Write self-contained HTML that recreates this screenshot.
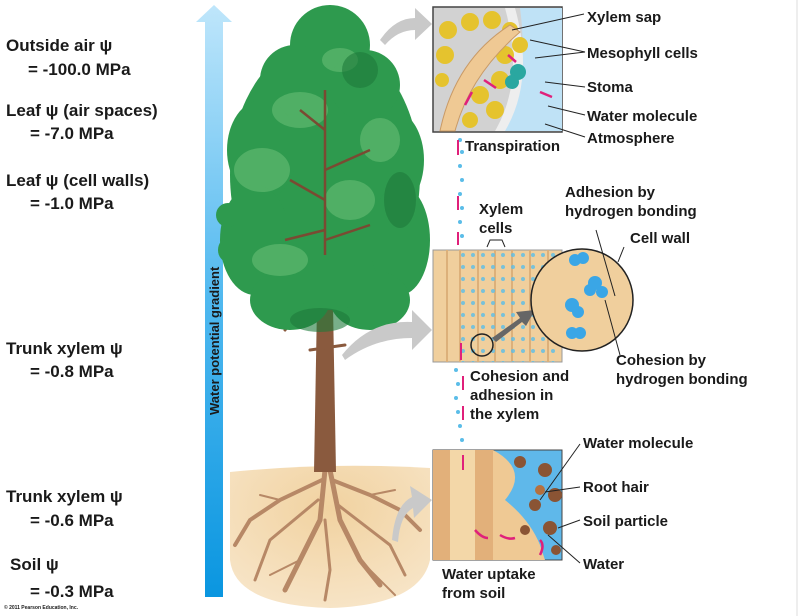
<!DOCTYPE html>
<html><head><meta charset="utf-8"><style>
html,body{margin:0;padding:0;background:#fff;width:800px;height:616px;overflow:hidden}
svg{display:block}
text{font-family:"Liberation Sans",sans-serif;font-weight:bold;fill:#1a1a1a}
</style></head><body>
<svg width="800" height="616" viewBox="0 0 800 616" xmlns="http://www.w3.org/2000/svg">
<defs>
<linearGradient id="ag" x1="0" y1="0" x2="0" y2="1">
<stop offset="0" stop-color="#bfe6fb"/><stop offset="0.5" stop-color="#4fb8ef"/><stop offset="1" stop-color="#0a96e0"/></linearGradient>
<radialGradient id="gr" cx="0.5" cy="0.3" r="0.7"><stop offset="0" stop-color="#f1d2a0"/><stop offset="1" stop-color="#f7e4c6"/></radialGradient>
<pattern id="dots" width="10" height="12" patternUnits="userSpaceOnUse"><circle cx="3" cy="3" r="2" fill="#5bbde8"/></pattern>
</defs>
<g font-size="17">
<text x="6" y="51">Outside air ψ</text><text x="28" y="75">= -100.0 MPa</text>
<text x="6" y="116">Leaf ψ (air spaces)</text><text x="30" y="139">= -7.0 MPa</text>
<text x="6" y="186">Leaf ψ (cell walls)</text><text x="30" y="209">= -1.0 MPa</text>
<text x="6" y="354">Trunk xylem ψ</text><text x="30" y="377">= -0.8 MPa</text>
<text x="6" y="502">Trunk xylem ψ</text><text x="30" y="526">= -0.6 MPa</text>
<text x="10" y="570">Soil ψ</text><text x="30" y="597">= -0.3 MPa</text>
</g>
<text x="4" y="609" font-size="5" font-weight="normal" fill="#777">© 2011 Pearson Education, Inc.</text>
<polygon points="214,5 232,22 223,22 223,597 205,597 205,22 196,22" fill="url(#ag)"/>
<text transform="translate(219,415) rotate(-90)" font-size="13" fill="#10203a">Water potential gradient</text>
<path d="M230,472 Q330,462 430,468 L430,560 Q420,605 330,608 Q235,605 230,560Z" fill="url(#gr)"/>
<g stroke="#b78866" fill="none" stroke-linecap="round">
<path d="M325,470 L320,520 L300,560 L285,590" stroke-width="5"/>
<path d="M330,470 L340,520 L360,560 L380,585" stroke-width="5"/>
<path d="M322,480 L280,500 L250,520 L235,545" stroke-width="4"/>
<path d="M332,480 L370,495 L400,510 L420,530" stroke-width="4"/>
<path d="M318,500 L270,540 L255,580" stroke-width="3"/>
<path d="M338,505 L390,545 L405,575" stroke-width="3"/>
<path d="M325,520 L330,570 L325,600" stroke-width="3"/>
<path d="M300,560 L270,575 M360,560 L395,595 M280,500 L260,495 M370,495 L395,490" stroke-width="2"/>
</g>
<path d="M318,250 L332,250 L336,472 L314,472Z" fill="#8a5a3e"/>
<g stroke="#8a5a3e" fill="none" stroke-linecap="round">
<path d="M318,320 L290,300 L262,292" stroke-width="4"/>
<path d="M332,310 L365,290 L390,284" stroke-width="4"/>
<path d="M300,307 L285,330 M310,350 L345,345" stroke-width="3"/>
</g>
<g fill="#2e9a4e">
<ellipse cx="325" cy="175" rx="95" ry="135"/>
<ellipse cx="330" cy="45" rx="40" ry="40"/>
<ellipse cx="295" cy="80" rx="35" ry="35"/><ellipse cx="365" cy="85" rx="35" ry="35"/>
<ellipse cx="262" cy="150" rx="35" ry="50"/><ellipse cx="392" cy="160" rx="32" ry="50"/>
<ellipse cx="255" cy="240" rx="35" ry="55"/><ellipse cx="400" cy="240" rx="30" ry="55"/>
<ellipse cx="290" cy="300" rx="40" ry="30"/><ellipse cx="370" cy="300" rx="40" ry="30"/>
<ellipse cx="330" cy="285" rx="40" ry="25"/>
<ellipse cx="228" cy="215" rx="12" ry="12"/><ellipse cx="228" cy="250" rx="10" ry="12"/>
</g>
<g fill="#5fb86f" opacity="0.7">
<ellipse cx="300" cy="110" rx="28" ry="18"/><ellipse cx="262" cy="170" rx="28" ry="22"/>
<ellipse cx="350" cy="200" rx="25" ry="20"/><ellipse cx="280" cy="260" rx="28" ry="16"/>
<ellipse cx="380" cy="140" rx="20" ry="22"/><ellipse cx="340" cy="60" rx="18" ry="12"/>
</g>
<g fill="#1e7a3a" opacity="0.6">
<ellipse cx="360" cy="70" rx="18" ry="18"/><ellipse cx="400" cy="200" rx="16" ry="28"/><ellipse cx="320" cy="320" rx="30" ry="12"/>
</g>
<g stroke="#7a4a32" fill="none" stroke-width="2.5">
<path d="M325,255 L325,90 M325,200 L290,180 M325,170 L370,150 M325,130 L300,110 M325,230 L285,240 M325,240 L370,225"/>
</g>
<g fill="#c9c9c9">
<path d="M380,40 Q395,18 415,18 L415,8 L432,24 L415,40 L415,30 Q398,30 385,45Z"/>
<path d="M342,355 Q370,320 412,322 L412,310 L432,330 L412,350 L412,338 Q375,338 345,360Z"/>
<path d="M392,540 Q395,505 412,497 L410,486 L432,500 L414,518 L413,508 Q400,515 398,542Z"/>
</g>
<rect x="433" y="7" width="129" height="125" fill="#d2d2d2" stroke="#444" stroke-width="1.5"/>
<path d="M520,8 L562,8 L562,131 L500,131 Q530,80 520,8Z" fill="#bfe2f6"/>
<path d="M505,8 Q525,80 495,131 L505,131 Q535,80 515,8Z" fill="#eee"/>
<g fill="#e5c32e">
<circle cx="448" cy="30" r="9"/><circle cx="470" cy="22" r="9"/><circle cx="492" cy="20" r="9"/><circle cx="510" cy="30" r="8"/>
<circle cx="445" cy="55" r="9"/><circle cx="505" cy="55" r="9"/><circle cx="520" cy="45" r="8"/><circle cx="500" cy="80" r="9"/>
<circle cx="480" cy="95" r="9"/><circle cx="495" cy="110" r="9"/><circle cx="470" cy="120" r="8"/><circle cx="442" cy="80" r="7"/>
</g>
<path d="M440,131 Q455,60 510,25 L520,32 Q470,75 455,131Z" fill="#efc994" stroke="#c99a66"/>
<circle cx="518" cy="72" r="8" fill="#2aa7a0"/><circle cx="512" cy="82" r="7" fill="#2aa7a0"/>
<g stroke="#e0207a" stroke-width="2.5"><path d="M465,105 L472,92 M484,80 L496,88 M508,55 L516,62 M540,92 L552,97"/></g>
<rect x="433" y="250" width="129" height="112" fill="#f0cf9d" stroke="#999"/>
<g stroke="#dcb07a" stroke-width="2"><path d="M447,250V362 M460,250V362 M478,250V362 M495,250V362 M512,250V362 M530,250V362 M548,250V362"/></g>
<rect x="460" y="250" width="100" height="112" fill="url(#dots)" opacity="0.8"/>
<circle cx="482" cy="345" r="11" fill="none" stroke="#222" stroke-width="1.5"/>
<polygon points="492,338 520,318 516,312 535,310 526,326 522,322 496,342" fill="#666"/>
<circle cx="582" cy="300" r="51" fill="#f0cf9d" stroke="#222" stroke-width="1.5"/>
<g fill="#3aa6e6"><circle cx="575" cy="260" r="6"/><circle cx="583" cy="258" r="6"/><circle cx="595" cy="283" r="7"/><circle cx="602" cy="292" r="6"/><circle cx="590" cy="290" r="6"/><circle cx="572" cy="305" r="7"/><circle cx="578" cy="312" r="6"/><circle cx="572" cy="333" r="6"/><circle cx="580" cy="333" r="6"/></g>
<rect x="433" y="450" width="129" height="110" fill="#5fb8ea" stroke="#444"/>
<rect x="433" y="450" width="60" height="110" fill="#e2b07a"/>
<rect x="450" y="450" width="25" height="110" fill="#f3d7a8"/>
<path d="M493,450 Q530,470 505,500 Q530,520 540,545 L545,560 L493,560Z" fill="#efc994"/>
<g fill="#8a5434"><circle cx="520" cy="462" r="6"/><circle cx="545" cy="470" r="7"/><circle cx="555" cy="495" r="7"/><circle cx="535" cy="505" r="6"/><circle cx="550" cy="528" r="7"/><circle cx="525" cy="530" r="5"/><circle cx="540" cy="490" r="5" fill="#b5703e"/><circle cx="556" cy="550" r="5"/></g>
<g stroke="#e0207a" stroke-width="2.5" fill="none"><path d="M475,530 Q482,538 488,538 M500,535 Q508,540 515,538 M540,555 Q545,545 540,540"/></g>
<g fill="#5bbde8">
<circle cx="460" cy="140" r="2"/><circle cx="462" cy="152" r="2"/><circle cx="460" cy="166" r="2"/><circle cx="462" cy="180" r="2"/><circle cx="460" cy="194" r="2"/><circle cx="462" cy="208" r="2"/><circle cx="460" cy="222" r="2"/><circle cx="462" cy="236" r="2"/>
<circle cx="456" cy="370" r="2"/><circle cx="458" cy="384" r="2"/><circle cx="456" cy="398" r="2"/><circle cx="458" cy="412" r="2"/><circle cx="460" cy="426" r="2"/><circle cx="462" cy="440" r="2"/>
</g>
<g stroke="#e0207a" stroke-width="2" fill="#e0207a">
<path d="M458,155V140"/><path d="M458,210V196"/><path d="M458,245V232"/>
<path d="M463,390V376"/><path d="M463,420V406"/><path d="M463,470V455"/><path d="M461,360V343"/>
</g>
<g stroke="#222" stroke-width="1" fill="none">
<path d="M512,30 L584,14"/><path d="M530,40 L585,52 L535,58"/><path d="M545,82 L585,87"/><path d="M548,106 L585,115"/><path d="M545,124 L585,137"/>
<path d="M487,247 L490,240 L502,240 L505,247"/><path d="M596,230 L615,296"/><path d="M624,247 L618,262"/><path d="M605,300 L620,355"/>
<path d="M540,500 L580,444"/><path d="M545,492 L580,487"/><path d="M558,528 L580,520"/><path d="M548,535 L580,563"/>
</g>
<g font-size="15">
<text x="587" y="22">Xylem sap</text>
<text x="587" y="58">Mesophyll cells</text>
<text x="587" y="92">Stoma</text>
<text x="587" y="121">Water molecule</text>
<text x="587" y="143">Atmosphere</text>
<text x="465" y="151">Transpiration</text>
<text x="565" y="197">Adhesion by</text>
<text x="565" y="216">hydrogen bonding</text>
<text x="630" y="243">Cell wall</text>
<text x="479" y="214">Xylem</text><text x="479" y="233">cells</text>
<text x="616" y="365">Cohesion by</text>
<text x="616" y="384">hydrogen bonding</text>
<text x="470" y="381">Cohesion and</text>
<text x="470" y="400">adhesion in</text>
<text x="470" y="419">the xylem</text>
<text x="583" y="448">Water molecule</text>
<text x="583" y="492">Root hair</text>
<text x="583" y="526">Soil particle</text>
<text x="583" y="569">Water</text>
<text x="442" y="579">Water uptake</text>
<text x="442" y="598">from soil</text>
</g>
<line x1="797" y1="0" x2="797" y2="616" stroke="#ddd"/>
</svg>
</body></html>
